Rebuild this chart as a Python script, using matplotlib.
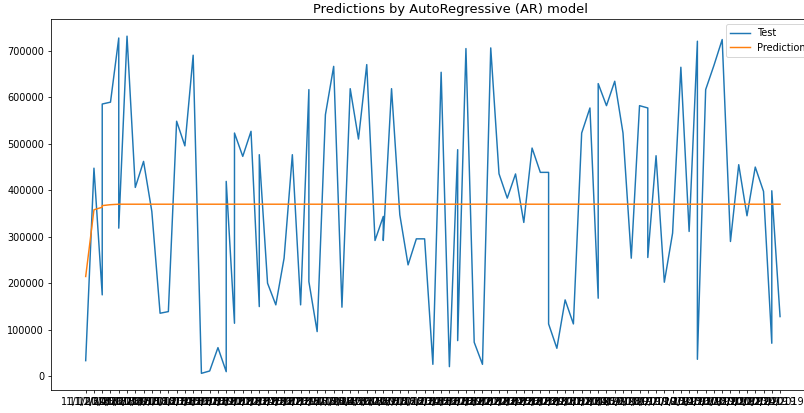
import matplotlib
matplotlib.use("Agg")
import matplotlib.pyplot as plt

# Daily test-set dates (some days carry two readings)
day_labels = [
    "11/1/2018", "11/2/2018", "11/3/2018", "11/3/2018", "11/4/2018", "11/5/2018", "11/5/2018",
    "11/6/2018", "11/7/2018", "11/8/2018", "11/9/2018", "11/10/2018", "11/11/2018", "11/12/2018",
    "11/13/2018", "11/14/2018", "11/15/2018", "11/16/2018", "11/17/2018", "11/18/2018", "11/18/2018",
    "11/19/2018", "11/19/2018", "11/20/2018", "11/21/2018", "11/22/2018", "11/22/2018", "11/23/2018",
    "11/24/2018", "11/25/2018", "11/26/2018", "11/27/2018", "11/28/2018", "11/28/2018", "11/29/2018",
    "11/30/2018", "12/1/2018", "12/2/2018", "12/3/2018", "12/4/2018", "12/5/2018", "12/6/2018",
    "12/7/2018", "12/7/2018", "12/8/2018", "12/9/2018", "12/10/2018", "12/11/2018", "12/12/2018",
    "12/13/2018", "12/14/2018", "12/15/2018", "12/16/2018", "12/16/2018", "12/17/2018", "12/18/2018",
    "12/19/2018", "12/20/2018", "12/21/2018", "12/22/2018", "12/23/2018", "12/24/2018", "12/25/2018",
    "12/26/2018", "12/27/2018", "12/27/2018", "12/28/2018", "12/29/2018", "12/30/2018", "12/31/2018",
    "1/1/2019", "1/2/2019", "1/2/2019", "1/3/2019", "1/4/2019", "1/5/2019", "1/6/2019",
    "1/7/2019", "1/8/2019", "1/8/2019", "1/9/2019", "1/10/2019", "1/11/2019", "1/12/2019",
    "1/13/2019", "1/14/2019", "1/14/2019", "1/15/2019", "1/16/2019", "1/17/2019", "1/18/2019",
    "1/19/2019", "1/20/2019", "1/21/2019", "1/22/2019", "1/23/2019", "1/23/2019", "1/24/2019",
]

test_values = [
    33000, 447000, 174500, 585000, 589000, 727000, 318000,
    731000, 405600, 461600, 354000, 135000, 138500, 548000,
    495000, 690000, 5700, 10800, 61000, 9300, 418600,
    113400, 522600, 472400, 526300, 149300, 476000, 199600,
    153000, 253400, 476000, 153000, 616000, 203000, 95500,
    562000, 666000, 148000, 618000, 509700, 669800, 291500,
    343200, 291500, 618000, 346800, 239000, 295000, 295000,
    25100, 653300, 20100, 486800, 76100, 704300, 72500,
    25100, 705700, 435000, 382600, 434600, 330300, 490300,
    438000, 438000, 112000, 59600, 163700, 112000, 522600,
    576500, 167300, 628900, 581500, 634000, 522600, 253400,
    581500, 576500, 254900, 473800, 201700, 307300, 664100,
    310900, 720100, 35900, 616000, 668000, 723700, 289300,
    454500, 344600, 449400, 397000, 70400, 398400, 127800,
]

pred_values = [
    214000, 357500, 363000, 366500, 368500, 369500, 369500,
    369500, 369500, 369500, 369500, 369500, 369500, 369500,
    369500, 369500, 369500, 369500, 369500, 369500, 369500,
    369500, 369500, 369500, 369500, 369500, 369500, 369500,
    369500, 369500, 369500, 369500, 369500, 369500, 369500,
    369500, 369500, 369500, 369500, 369500, 369500, 369500,
    369500, 369500, 369500, 369500, 369500, 369500, 369500,
    369500, 369500, 369500, 369500, 369500, 369500, 369500,
    369500, 369500, 369500, 369500, 369500, 369500, 369500,
    369500, 369500, 369500, 369500, 369500, 369500, 369500,
    369500, 369500, 369500, 369500, 369500, 369500, 369500,
    369500, 369500, 369500, 369500, 369500, 369500, 369500,
    369500, 369500, 369500, 369500, 369500, 369500, 369500,
    369500, 369500, 369500, 369500, 369500, 369500, 369500,
]

fig = plt.figure(figsize=(804 / 70, 413 / 70), dpi=70)
ax = fig.add_axes([0.0634, 0.0552, 0.95, 0.8981])

ax.plot(day_labels, test_values, color="#1f77b4", label="Test")
ax.plot(day_labels, pred_values, color="#ff7f0e", label="Prediction")
ax.set_title("Predictions by AutoRegressive (AR) model", fontsize=13.4, x=0.5225)
ax.legend(loc="upper right")

fig.savefig("out.png", dpi=70)
